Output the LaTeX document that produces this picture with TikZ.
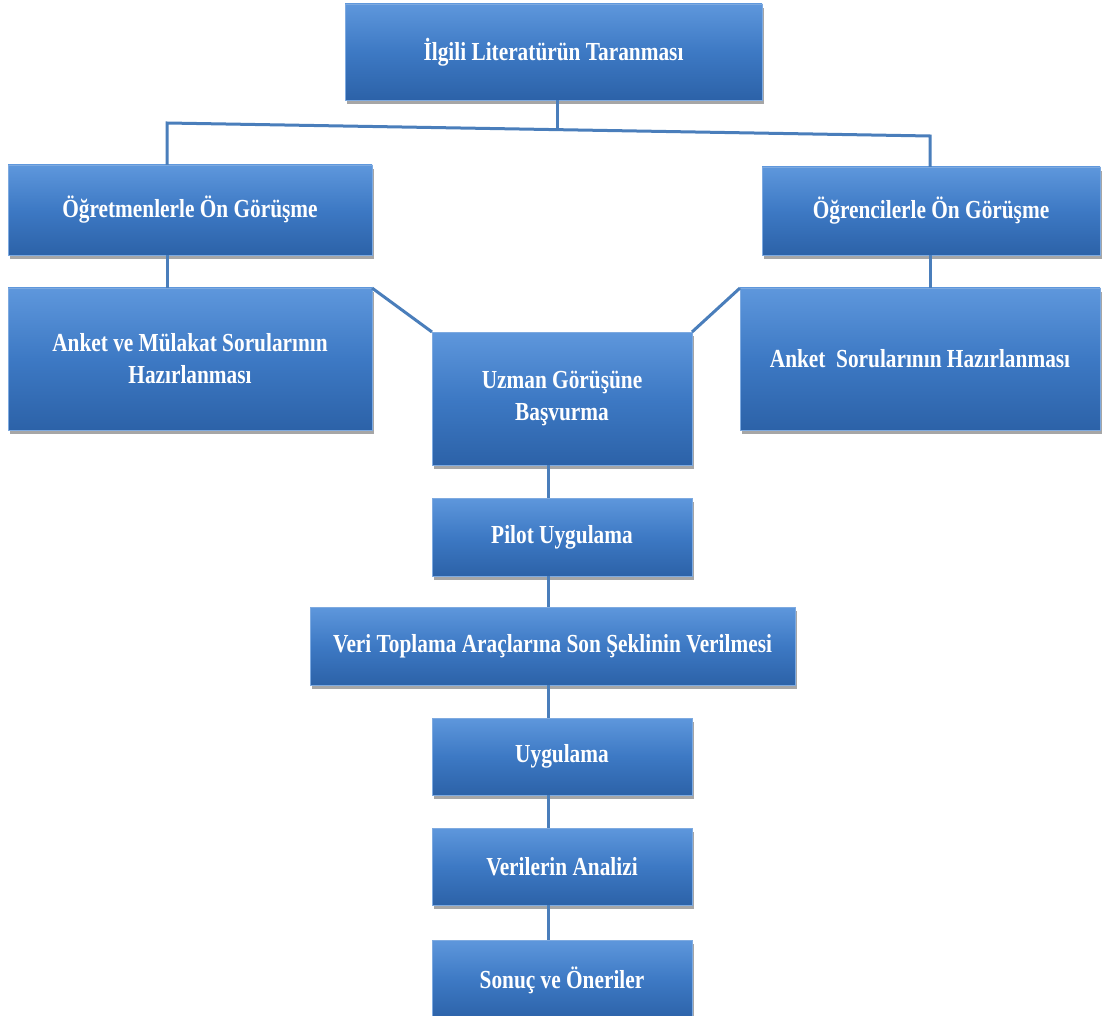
\documentclass[tikz,border=0pt]{standalone}
\usepackage{fontspec}
\newfontfamily\boxfont[FakeStretch=0.82]{Liberation Serif}
\usetikzlibrary{shadows}
\definecolor{bxtop}{HTML}{5E97DC}
\definecolor{bxmid}{HTML}{3D79C4}
\definecolor{bxbot}{HTML}{2C62A8}
\definecolor{bxedge}{HTML}{7EAAE0}
\definecolor{lnblue}{HTML}{4A7EBB}
\tikzset{
  box/.style={rectangle, anchor=north west, inner sep=2pt, outer sep=0pt,
    top color=bxtop, bottom color=bxbot, middle color=bxmid,
    draw=bxedge, line width=0.8pt,
    drop shadow={shadow xshift=1.5pt, shadow yshift=-4pt, opacity=0.35, fill=black},
    text=white, align=center,
    font=\boxfont\bfseries\fontsize{26}{32}\selectfont},
  conn/.style={draw=lnblue, line width=3pt}
}
\begin{document}
\begin{tikzpicture}[x=1pt,y=-1pt]
\useasboundingbox (0,0) rectangle (1108,1016);
\node[box, minimum width=417, minimum height=96] (top) at (345,4) {İlgili Literatürün Taranması};
\node[box, minimum width=364, minimum height=90] (a1) at (8,165) {Öğretmenlerle Ön Görüşme};
\node[box, minimum width=364, minimum height=142] (a2) at (8,288) {Anket ve Mülakat Sorularının\\Hazırlanması};
\node[box, minimum width=338, minimum height=88] (b1) at (762,167) {Öğrencilerle Ön Görüşme};
\node[box, minimum width=360, minimum height=142] (b2) at (740,288) {Anket\ \ Sorularının Hazırlanması};
\node[box, minimum width=260, minimum height=133] (c) at (432,332) {Uzman Görüşüne\\Başvurma};
\node[box, minimum width=260, minimum height=78] (p) at (432,498) {Pilot Uygulama};
\node[box, minimum width=485, minimum height=78] (v) at (310,607) {Veri Toplama Araçlarına Son Şeklinin Verilmesi};
\node[box, minimum width=260, minimum height=77] (u) at (432,718) {Uygulama};
\node[box, minimum width=260, minimum height=77] (an) at (432,828) {Verilerin Analizi};
\node[box, minimum width=260, minimum height=80] (s) at (432,940) {Sonuç ve Öneriler};
\coordinate (hl) at (167,123);
\coordinate (hr) at (930,136);
\coordinate (jt) at (557,130);
\coordinate (cx) at (548,0);
\draw[conn] (jt |- top.south) -- (jt);
\draw[conn] (hl |- a1.north) -- (hl) -- (hr) -- (hr |- b1.north);
\draw[conn] (hl |- a1.south) -- (hl |- a2.north);
\draw[conn] (hr |- b1.south) -- (hr |- b2.north);
\draw[conn] (a2.north east) -- (c.north west);
\draw[conn] (b2.north west) -- (c.north east);
\draw[conn] (cx |- c.south) -- (cx |- p.north);
\draw[conn] (cx |- p.south) -- (cx |- v.north);
\draw[conn] (cx |- v.south) -- (cx |- u.north);
\draw[conn] (cx |- u.south) -- (cx |- an.north);
\draw[conn] (cx |- an.south) -- (cx |- s.north);
\end{tikzpicture}
\end{document}
